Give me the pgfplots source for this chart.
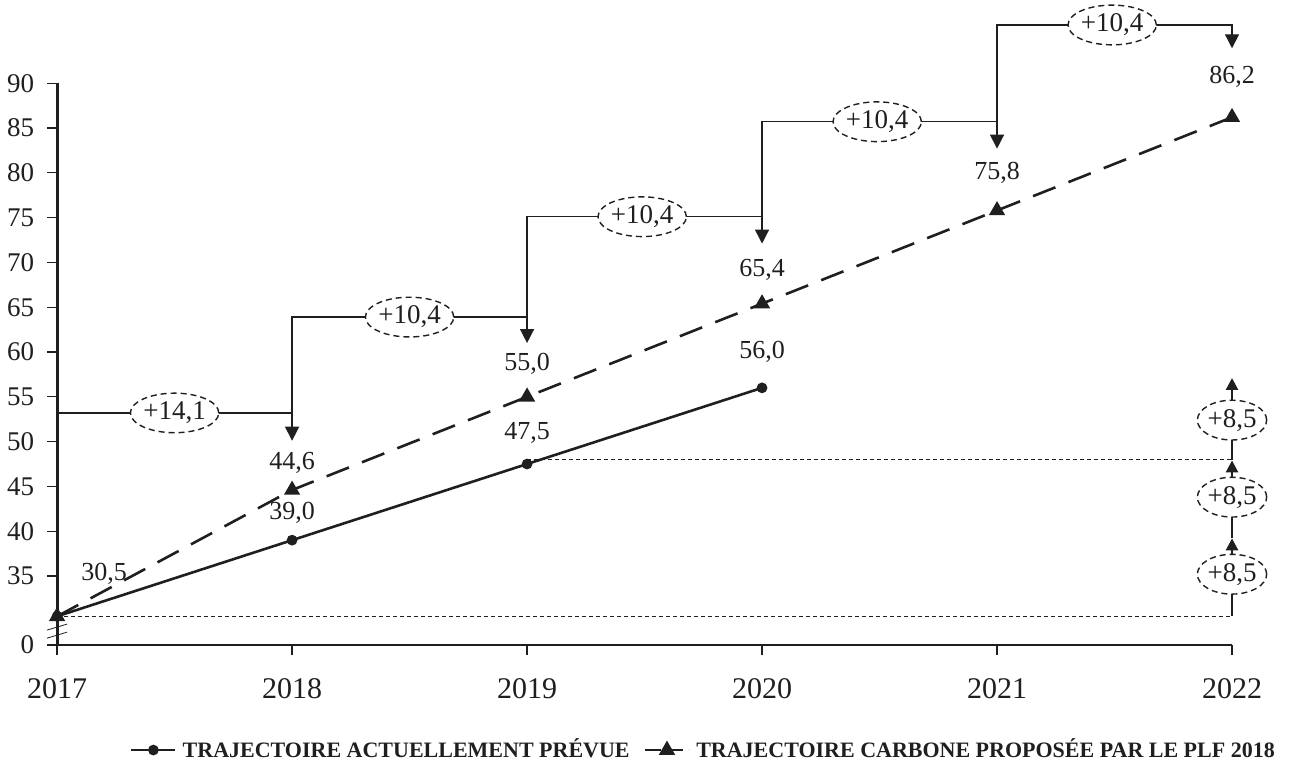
\documentclass[border=0pt]{standalone}
\usepackage{pgfplots}
\pgfplotsset{compat=1.18}
\usepackage{fontspec}
\setmainfont{Liberation Serif}
\usetikzlibrary{arrows.meta,shapes.geometric}

\definecolor{ink}{gray}{0.12}

\begin{document}
\begin{tikzpicture}
\begin{axis}[
  scale only axis,
  width=587.5pt, height=280.9pt,
  xmin=2017, xmax=2022,
  ymin=27.3, ymax=90,
  clip=false,
  axis x line=bottom, axis y line=left,
  axis line style={-, ink, line width=0.6pt},
  y axis line style={line width=1.5pt},
  xtick={2017,2018,2019,2020,2021,2022},
  xticklabels={2017,2018,2019,2020,2021,2022},
  ytick={27.3,35,40,45,50,55,60,65,70,75,80,85,90},
  yticklabels={0,35,40,45,50,55,60,65,70,75,80,85,90},
  tick align=outside,
  major tick length=5pt,
  tick style={ink, line width=0.6pt},
  ticklabel style={text=ink},
  xticklabel style={font=\fontsize{15}{17}\selectfont, yshift=-8pt},
  yticklabel style={font=\fontsize{13.5}{15}\selectfont, xshift=-3pt},
  /pgf/number format/assume math mode=true,
  legend columns=2,
  legend style={draw=none, fill=none, at={(0.551,-0.187)}, anchor=center,
    font=\fontsize{11}{13}\selectfont\bfseries, text=ink,
    /tikz/every odd column/.append style={column sep=1pt},
    /tikz/every even column/.append style={column sep=5pt}},
  legend image code/.code={
    \draw[#1] (0pt,0pt) -- (22pt,0pt);
    \draw[#1, solid] plot coordinates {(11pt,0pt)};
  },
]
% current trajectory (solid)
\addplot[line width=1.3pt, ink, mark=*, mark size=2pt] coordinates {
  (2017,30.5) (2018,39.0) (2019,47.5) (2020,56.0)};
\addlegendentry{TRAJECTOIRE ACTUELLEMENT PRÉVUE}
% carbon trajectory PLF 2018 (dashed)
\addplot[line width=1.3pt, ink, dash pattern=on 12pt off 7pt,
  mark=triangle*, mark size=3.4pt, mark options={solid},
  legend image post style={dash pattern=on 8pt off 3pt}] coordinates {
  (2017,30.5) (2018,44.6) (2019,55.0) (2020,65.4) (2021,75.8) (2022,86.2)};
\addlegendentry{TRAJECTOIRE CARBONE PROPOSÉE PAR LE PLF 2018}

% dotted reference lines
\addplot[ink, dash pattern=on 2pt off 1.5pt, line width=0.8pt, forget plot] coordinates {(2017,30.5) (2022,30.5)};
\addplot[ink, dash pattern=on 2pt off 1.5pt, line width=0.8pt, forget plot] coordinates {(2019,48.0) (2022,48.0)};

% yearly increments (staircase)
\addplot[ink, line width=0.7pt, -{Triangle[width=7pt,length=7pt]}, forget plot] coordinates {(2017,53.2) (2018,53.2) (2018,50.1)};
\addplot[ink, line width=0.7pt, -{Triangle[width=7pt,length=7pt]}, forget plot] coordinates {(2018,53.2) (2018,63.9) (2019,63.9) (2019,61.0)};
\addplot[ink, line width=0.7pt, -{Triangle[width=7pt,length=7pt]}, forget plot] coordinates {(2019,63.9) (2019,75.1) (2020,75.1) (2020,72.1)};
\addplot[ink, line width=0.7pt, -{Triangle[width=7pt,length=7pt]}, forget plot] coordinates {(2020,75.1) (2020,85.7) (2021,85.7) (2021,82.7)};
\addplot[ink, line width=0.7pt, -{Triangle[width=7pt,length=7pt]}, forget plot] coordinates {(2021,85.7) (2021,96.5) (2022,96.5) (2022,93.9)};

% +8,5 steps on 2022
\addplot[ink, line width=1.3pt, -{Triangle[width=6pt,length=6pt]}, forget plot] coordinates {(2022,30.5) (2022,39.2)};
\addplot[ink, line width=1.3pt, -{Triangle[width=6pt,length=6pt]}, forget plot] coordinates {(2022,39.2) (2022,47.9)};
\addplot[ink, line width=1.3pt, -{Triangle[width=6pt,length=6pt]}, forget plot] coordinates {(2022,47.9) (2022,57.1)};

\tikzset{inc/.style={ellipse, draw=ink, densely dashed, line width=0.7pt, fill=white,
  inner xsep=0pt, inner ysep=1.5pt, text=ink, font=\fontsize{13.5}{14}\selectfont}}
\node[inc] at (axis cs:2017.5,53.2) {+14,1};
\node[inc] at (axis cs:2018.5,63.9) {+10,4};
\node[inc] at (axis cs:2019.49,75.1) {+10,4};
\node[inc] at (axis cs:2020.49,85.7) {+10,4};
\node[inc] at (axis cs:2021.49,96.5) {+10,4};
\node[inc] at (axis cs:2022,52.4) {+8,5};
\node[inc] at (axis cs:2022,43.8) {+8,5};
\node[inc] at (axis cs:2022,35.2) {+8,5};

% value labels
\tikzset{val/.style={text=ink, font=\fontsize{13}{15}\selectfont}}
\node[val] at (axis cs:2017.2,35.2) {30,5};
\node[val] at (axis cs:2018,42.1) {39,0};
\node[val] at (axis cs:2018,47.6) {44,6};
\node[val] at (axis cs:2019,51.0) {47,5};
\node[val] at (axis cs:2019,58.7) {55,0};
\node[val] at (axis cs:2020,60.0) {56,0};
\node[val] at (axis cs:2020,69.2) {65,4};
\node[val] at (axis cs:2021,80.0) {75,8};
\node[val] at (axis cs:2022,90.7) {86,2};

% axis break marks
\draw[ink, thin] ([xshift=-5pt,yshift=-1.5pt]axis cs:2017,28.4) -- ([xshift=5pt,yshift=1.5pt]axis cs:2017,28.4);
\draw[ink, thin] ([xshift=-5pt,yshift=-1.5pt]axis cs:2017,29.3) -- ([xshift=5pt,yshift=1.5pt]axis cs:2017,29.3);

\coordinate (TL) at (axis cs:2016.757,99.29);
\coordinate (BR) at (axis cs:2022.251,14.02);
\end{axis}
\pgfresetboundingbox
\path[use as bounding box] (TL) rectangle (BR);
\end{tikzpicture}
\end{document}
